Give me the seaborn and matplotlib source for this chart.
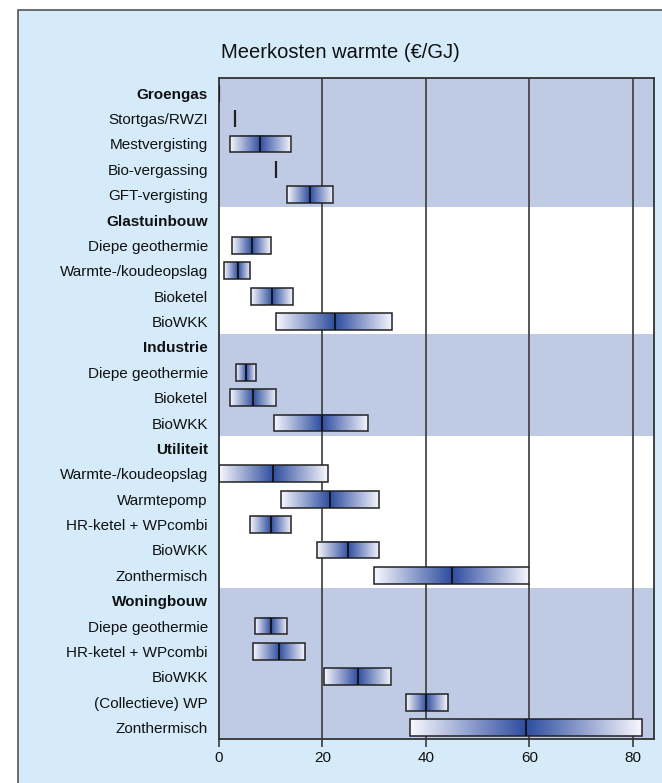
import numpy as np
import seaborn as sns
import matplotlib.pyplot as plt
from matplotlib.patches import Rectangle

# rows top to bottom; bold rows are the sector headers
labels = ['Groengas', 'Stortgas/RWZI', 'Mestvergisting', 'Bio-vergassing', 'GFT-vergisting',
          'Glastuinbouw', 'Diepe geothermie', 'Warmte-/koudeopslag', 'Bioketel', 'BioWKK',
          'Industrie', 'Diepe geothermie', 'Bioketel', 'BioWKK',
          'Utiliteit', 'Warmte-/koudeopslag', 'Warmtepomp', 'HR-ketel + WPcombi', 'BioWKK', 'Zonthermisch',
          'Woningbouw', 'Diepe geothermie', 'HR-ketel + WPcombi', 'BioWKK', '(Collectieve) WP', 'Zonthermisch']
headers = ['Groengas', 'Glastuinbouw', 'Industrie', 'Utiliteit', 'Woningbouw']
header_rows = [0, 5, 10, 14, 20]

nan = np.nan
low = [0, 3.1, 2.1, 11.0, 13.1,
       nan, 2.6, 1.0, 6.2, 11.1,
       nan, 3.2, 2.1, 10.7,
       nan, 0.0, 12.0, 6.0, 19.0, 30.0,
       nan, 7.0, 6.5, 20.3, 36.2, 37.0]
mid = [0, 3.1, 8.0, 11.0, 17.5,
       nan, 6.4, 3.6, 10.3, 22.4,
       nan, 5.2, 6.6, 19.9,
       nan, 10.5, 21.4, 10.0, 25.0, 45.0,
       nan, 10.0, 11.6, 26.8, 40.1, 59.4]
high = [0, 3.1, 14.0, 11.0, 22.0,
        nan, 10.0, 6.0, 14.3, 33.5,
        nan, 7.1, 11.1, 28.9,
        nan, 21.0, 30.9, 14.0, 31.0, 59.9,
        nan, 13.1, 16.6, 33.3, 44.2, 81.8]

ticks = [0, 20, 40, 60, 80]
title = 'Meerkosten warmte (€/GJ)'

sns.set_theme(style='white')
plt.rcParams['font.family'] = ['Liberation Sans', 'DejaVu Sans']

panel_c = '#D5EBFA'
band_c = '#BFCBE5'
line_c = '#3a3a3a'
cmap = sns.blend_palette(['#F8F8FE', '#2E4D9F'], as_cmap=True)

fig = plt.figure(figsize=(6.62, 7.83), dpi=100)
fig.patch.set_facecolor('white')
panel = Rectangle((18 / 662, -0.05), 1.0, 1 - 10 / 783 + 0.05, transform=fig.transFigure,
                  facecolor=panel_c, edgecolor='#555555', linewidth=1.2, zorder=-10)
fig.add_artist(panel)

ax = fig.add_axes([219 / 662, 1 - 739 / 783, (654 - 219) / 662, (739 - 78) / 783])
ax.set_zorder(1)
ax.set_facecolor('white')

# sector bands
bands = [(-0.7, 4.5, band_c), (4.5, 9.5, 'white'), (9.5, 13.5, band_c),
         (13.5, 19.5, 'white'), (19.5, 25.6, band_c)]
for y0, y1, c in bands:
    ax.axhspan(y0, y1, color=c, zorder=0, lw=0)

for t in ticks[1:]:
    ax.axvline(t, color=line_c, lw=1.2, zorder=1)

h = 0.66
grad = np.linspace(0, 1, 256).reshape(1, -1)
for i, (lo, m, hi) in enumerate(zip(low, mid, high)):
    if np.isnan(lo):
        continue
    if hi - lo < 0.01:
        ax.plot([m, m], [i - h / 2, i + h / 2], color='#222222', lw=1.6, zorder=4,
                solid_capstyle='butt')
        continue
    ax.imshow(grad, cmap=cmap, aspect='auto', interpolation='bilinear',
              extent=(lo, m, i + h / 2, i - h / 2), zorder=2)
    ax.imshow(grad[:, ::-1], cmap=cmap, aspect='auto', interpolation='bilinear',
              extent=(m, hi, i + h / 2, i - h / 2), zorder=2)
    ax.add_patch(Rectangle((lo, i - h / 2), hi - lo, h, fill=False,
                           edgecolor='#222222', lw=1.1, zorder=3))
    ax.plot([m, m], [i - h / 2, i + h / 2], color='#111111', lw=1.3, zorder=4,
            solid_capstyle='butt')

ax.set_xlim(0, 84.1)
ax.set_ylim(25.45, -0.6)
ax.set_xticks(ticks)
ax.set_yticks(range(len(labels)))
ax.set_yticklabels(labels)
for r, lab in zip(range(len(labels)), ax.get_yticklabels()):
    if r in header_rows:
        lab.set_fontweight('bold')
ax.tick_params(axis='y', length=0, pad=8, labelsize=11, labelcolor='#111111')
ax.tick_params(axis='x', length=6, width=1.2, color=line_c, direction='out', pad=3,
               labelsize=11, labelcolor='#111111', bottom=True)
for s in ax.spines.values():
    s.set_color('#333333')
    s.set_linewidth(1.3)
    s.set_visible(True)

fig.text(340 / 662, 1 - 52 / 783, title, ha='center', va='center', fontsize=14.5, color='#111111')

fig.savefig('out.png', dpi=100, facecolor=fig.get_facecolor())
